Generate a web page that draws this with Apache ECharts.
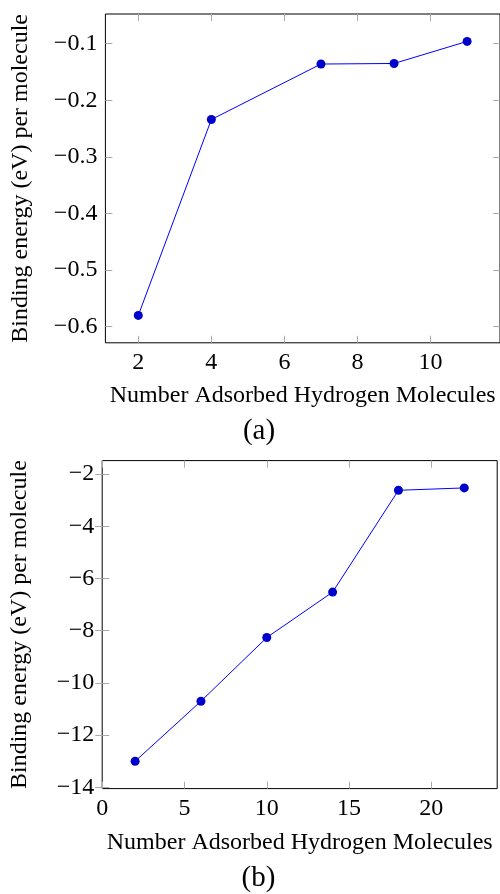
<!DOCTYPE html>
<html>
<head>
<meta charset="utf-8">
<script src="https://cdn.jsdelivr.net/npm/echarts@6/dist/echarts.min.js"></script>
<style>html,body{margin:0;padding:0;background:#fff}#c{width:500px;height:894px}</style>
</head>
<body>
<div id="c"></div>
<script>
// ---- data ----
var xA = [2, 4, 7, 9, 11];
var yA = [-0.58, -0.234, -0.136, -0.135, -0.096];
var xB = [2, 6, 10, 14, 18, 22];
var yB = [-13.0, -10.7, -8.26, -6.52, -2.62, -2.53];
var xTicksA = [2, 4, 6, 8, 10];
var yTicksA = [-0.6, -0.5, -0.4, -0.3, -0.2, -0.1];
var xTicksB = [0, 5, 10, 15, 20];
var yTicksB = [-14, -12, -10, -8, -6, -4, -2];
var xLabel = 'Number Adsorbed Hydrogen Molecules';
var yLabel = 'Binding energy (eV) per molecule';
var captions = ['(a)', '(b)'];

function lim(arr) {
  var mn = Math.min.apply(null, arr), mx = Math.max.apply(null, arr);
  var e = (mx - mn) * 0.1;
  return [mn - e, mx + e];
}
function pairs(xs, ys) { return xs.map(function (x, i) { return [x, ys[i]]; }); }
function fmt(v) { return String(+v.toFixed(6)).replace('-', '\u2212'); }

var FONT = '"Liberation Serif", serif';
var tickStyle = { color: '#aaa', width: 1 };

function axes(gi, xl, yl, xt, yt, yGap, xGap) {
  var xs = [
    { type: 'value', gridIndex: gi, min: xl[0], max: xl[1], position: 'bottom',
      axisLine: { show: false }, splitLine: { show: false },
      axisTick: { inside: true, length: 7, lineStyle: tickStyle, customValues: xt },
      axisLabel: { customValues: xt, formatter: fmt, fontFamily: FONT, fontSize: 24, color: '#000', margin: 8 },
      name: xLabel, nameLocation: 'middle', nameGap: xGap,
      nameTextStyle: { fontFamily: FONT, fontSize: 24, color: '#000' } },
    { type: 'value', gridIndex: gi, min: xl[0], max: xl[1], position: 'top',
      axisLine: { show: false }, splitLine: { show: false },
      axisTick: { inside: true, length: 7, lineStyle: tickStyle, customValues: xt },
      axisLabel: { show: false } }
  ];
  var ys = [
    { type: 'value', gridIndex: gi, min: yl[0], max: yl[1], position: 'left',
      axisLine: { show: false }, splitLine: { show: false },
      axisTick: { inside: true, length: 7, lineStyle: tickStyle, customValues: yt },
      axisLabel: { customValues: yt, formatter: fmt, fontFamily: FONT, fontSize: 24, color: '#000', margin: 8 },
      name: yLabel, nameLocation: 'middle', nameGap: yGap, nameRotate: 90,
      nameTextStyle: { fontFamily: FONT, fontSize: 24, color: '#000' } },
    { type: 'value', gridIndex: gi, min: yl[0], max: yl[1], position: 'right',
      axisLine: { show: false }, splitLine: { show: false },
      axisTick: { inside: true, length: 7, lineStyle: tickStyle, customValues: yt },
      axisLabel: { show: false } }
  ];
  return { x: xs, y: ys };
}

var a = axes(0, lim(xA), lim(yA), xTicksA, yTicksA, 73, 41);
var b = axes(1, lim(xB), lim(yB), xTicksB, yTicksB, 70, 42);

var chart = echarts.init(document.getElementById('c'), null, { renderer: 'canvas' });
chart.setOption({
  animation: false,
  backgroundColor: '#fff',
  grid: [
    { left: 105.4, top: 14, width: 394.7, height: 328.8, show: true, borderColor: '#000', borderWidth: 1, backgroundColor: 'transparent' },
    { left: 102.2, top: 460.6, width: 395, height: 328, show: true, borderColor: '#000', borderWidth: 1, backgroundColor: 'transparent' }
  ],
  xAxis: a.x.concat(b.x),
  yAxis: a.y.concat(b.y),
  series: [
    { type: 'line', xAxisIndex: 0, yAxisIndex: 0, data: pairs(xA, yA),
      symbol: 'circle', symbolSize: 9, itemStyle: { color: '#0000cc' },
      lineStyle: { color: '#0000ff', width: 1 } },
    { type: 'line', xAxisIndex: 2, yAxisIndex: 2, data: pairs(xB, yB),
      symbol: 'circle', symbolSize: 9, itemStyle: { color: '#0000cc' },
      lineStyle: { color: '#0000ff', width: 1 } }
  ],
  graphic: [
    { type: 'text', x: 259, y: 431, style: { text: captions[0], fontFamily: FONT, fontSize: 29, fill: '#000', align: 'center', verticalAlign: 'middle' } },
    { type: 'text', x: 258.5, y: 878, style: { text: captions[1], fontFamily: FONT, fontSize: 29, fill: '#000', align: 'center', verticalAlign: 'middle' } }
  ]
});
</script>
</body>
</html>
